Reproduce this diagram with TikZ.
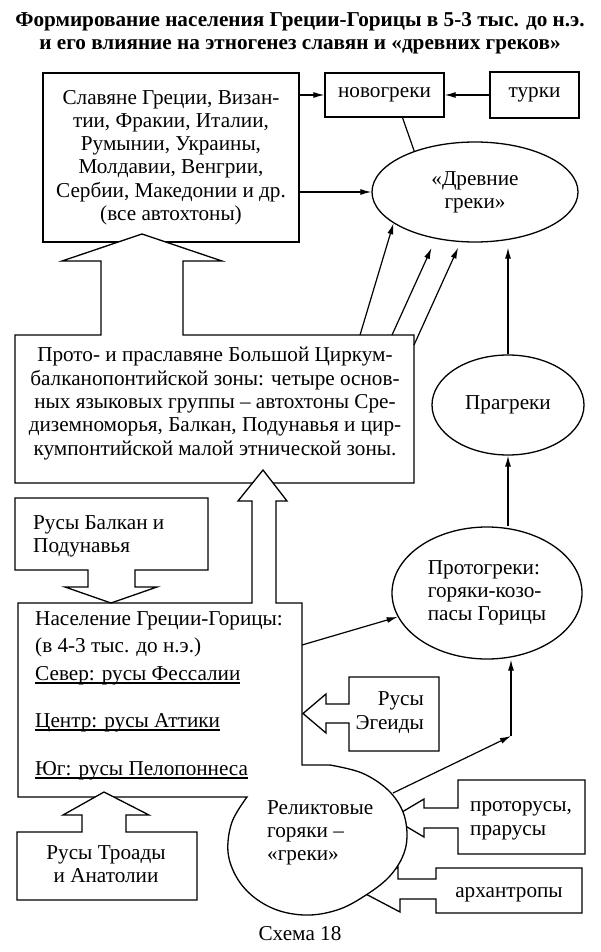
\documentclass[tikz,border=0pt]{standalone}
\usepackage{fontspec}
\setmainfont{Liberation Serif}
\usepackage{tikz}
\usetikzlibrary{shapes.geometric,arrows.meta,positioning,calc}
\tikzstyle{boite}=[draw, rectangle, line width=1.3pt, inner sep=0pt]
\tikzstyle{ovale}=[draw, ellipse, line width=1.3pt, inner sep=0pt]
\tikzstyle{bloc}=[draw, fill=white, line width=1.3pt, line join=miter]
\tikzstyle{trait}=[line width=1.2pt]
\tikzstyle{fleche}=[-{Latex[length=11pt,width=6pt]}, line width=1.2pt]
\tikzstyle{texte}=[inner sep=0pt, anchor=base west, align=left]
\newsavebox{\soulbox}
\newcommand{\souligne}[1]{\sbox{\soulbox}{#1}\rlap{\rule[-3.5pt]{\wd\soulbox}{1.1pt}}\usebox{\soulbox}}

\begin{document}
\begin{tikzpicture}[x=1pt, y=-1pt, font=\fontsize{21.2}{23.3}\selectfont]
\useasboundingbox (0,0) rectangle (600,952);

% titre (base = last line)
\node[anchor=base, align=center, inner sep=0pt, font=\fontsize{21.2}{23}\selectfont\bfseries] (titre) at (300,50)
  {Формирование населения Греции-Горицы в 5-3 тыс. до н.э.\\и его влияние на этногенез славян и «древних греков»};

% haut
\node[boite, minimum width=256pt, minimum height=169pt, align=center] (slaves) at (171,157.5)
  {Славяне Греции, Визан-\\тии, Фракии, Италии,\\Румынии, Украины,\\Молдавии, Венгрии,\\Сербии, Македонии и др.\\(все автохтоны)};
\node[boite, minimum width=119pt, minimum height=44pt] (novo) at (384.5,95) {новогреки};
\node[boite, minimum width=89pt, minimum height=46pt] (turki) at (534.5,95) {турки};
\node[ovale, minimum width=206pt, minimum height=100pt, align=center] (drevnie) at (475,192) {«Древние\\греки»};

% proto
\draw[bloc] (15,335) -- (101,335) -- (101,261) -- (62,261) -- (142,234) -- (222,261) -- (183,261) -- (183,335)
  -- (414,335) -- (414,483) -- (15,483) -- cycle;
\node[anchor=base, align=center, inner sep=0pt] (proto) at (215,455)
  {Прото- и праславяне Большой Циркум-\\балканопонтийской зоны: четыре основ-\\ных языковых группы – автохтоны Сре-\\диземноморья, Балкан, Подунавья и цир-\\кумпонтийской малой этнической зоны.};

\node[ovale, minimum width=152pt, minimum height=100pt] (pragreki) at (508,405) {Прагреки};
\node[ovale, minimum width=190pt, minimum height=132pt, align=left] (protogreki) at (487,593) {Протогреки:\\горяки-козо-\\пасы Горицы};

% blocs sous le cercle
\draw[bloc] (585,780) -- (458,780) -- (458,808) -- (424,808) -- (424,799) -- (392,818) -- (424,837) -- (424,828)
  -- (458,828) -- (458,854) -- (585,854) -- cycle;
\node[texte] (protorusy) at (470,835) {проторусы,\\прарусы};

\draw[bloc] (582,868) -- (436,868) -- (436,879) -- (398,879) -- (398,867) -- (362,892) -- (400,912) -- (400,899)
  -- (436,899) -- (436,913) -- (582,913) -- cycle;
\node[anchor=base, inner sep=0pt] (arch) at (509,897) {архантропы};

% naselenie + relikt
\draw[bloc] (18,797) -- (18,603) -- (252,603) -- (252,501) -- (238,501) -- (263,470) -- (287,501) -- (276,501) -- (276,603)
  -- (302,603) -- (302,765) -- plot[smooth, tension=0.6] coordinates {(330,765) (362,773) (388,790) (403,812) (407,837)
  (402,858) (388,878) (366,895) (340,909) (310,915) (280,911) (255,898) (237,878) (228,852) (232,822) (247,797)} -- cycle;
\node[texte] (naselenie) at (35,775)
  {Население Греции-Горицы:\\[3.7pt](в 4-3 тыс. до н.э.)\\[4.7pt]\souligne{Север: русы Фессалии}\\[23.7pt]\souligne{Центр: русы Аттики}\\[24.7pt]\souligne{Юг: русы Пелопоннеса}};
\node[texte] (relikt) at (267,860.6) {Реликтовые\\горяки –\\«греки»};

% autres blocs
\draw[bloc] (15,498) -- (208,498) -- (208,570) -- (135,570) -- (135,587) -- (157,587) -- (111,603) -- (65,587) -- (88,587)
  -- (88,570) -- (15,570) -- cycle;
\node[texte] (balkan) at (33,552.3) {Русы Балкан и\\Подунавья};

\draw[bloc] (439,677) -- (349,677) -- (349,704) -- (326,704) -- (326,694) -- (303,713.5) -- (326,733) -- (326,723)
  -- (349,723) -- (349,751) -- (439,751) -- cycle;
\node[texte, anchor=base east, align=right] (egeida) at (424,729) {Русы\\Эгеиды};

\draw[bloc] (17,832) -- (82,832) -- (82,815) -- (63,815) -- (104,792) -- (149,815) -- (126,815) -- (126,832) -- (197,832)
  -- (197,900) -- (17,900) -- cycle;
\node[anchor=base, align=center, inner sep=0pt] (troada) at (106,882.3) {Русы Троады\\и Анатолии};

\node[anchor=base, inner sep=0pt] (schema) at (300,940) {Схема 18};

% fleches
\coordinate (p1) at (360,335);
\coordinate (p2) at (392,335);
\coordinate (p3) at (414,345);
\coordinate (n1) at (302,645);
\coordinate (r1) at (393,793);
\coordinate (junc) at (511,736);

\draw[fleche] (slaves.east |- novo) -- (novo.west);
\draw[fleche] (turki) -- (novo);
\draw[trait] ([xshift=18pt]novo.south) -- (drevnie.146);
\draw[fleche] (slaves.east |- drevnie) -- (drevnie);
\draw[fleche] (p1) -- (drevnie.201);
\draw[fleche, shorten >=10pt] (p2) -- (drevnie.230);
\draw[fleche, shorten >=6pt] (p3) -- (drevnie.254);
\draw[fleche, shorten >=5pt] (pragreki) -- (pragreki |- drevnie.south);
\draw[fleche] (pragreki.south |- protogreki.north) -- (pragreki.south);
\draw[fleche] (junc) -- (junc |- protogreki.south);
\draw[fleche] (r1) -- (junc);
\draw[fleche] (n1) -- (protogreki.195);

\end{tikzpicture}
\end{document}
